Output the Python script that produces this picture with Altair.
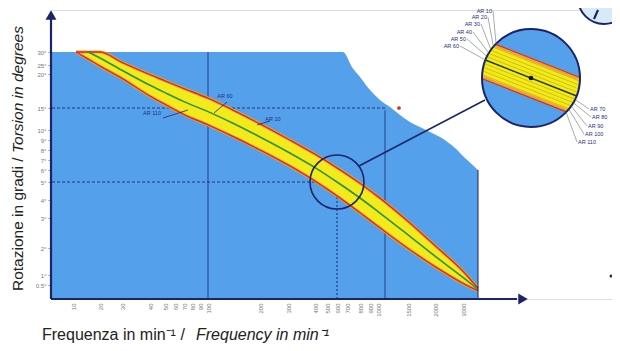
import math
import altair as alt
import pandas as pd

# ---------------- values ----------------
x_tick_values = [10, 20, 30, 40, 50, 60, 70, 80, 90, 100, 200, 300, 400, 500,
                 600, 700, 800, 900, 1000, 1500, 2000, 3000]
y_tick_values = [0.5, 1, 2, 3, 4, 5, 6, 7, 8, 9, 10, 15, 20, 25, 30]

# band curves (frequency in min^-1 -> torsion in degrees)
band_freq = [11.1, 15.6, 20, 30, 40, 50, 70, 100, 152, 200, 300, 400, 600,
             800, 1000, 1500, 2000, 3000, 4000]
ar10_deg = [30, 30, 30, 26.0, 19.9, 19.0, 17.85, 16.44, 14.3, 11.4, 9.1, 7.58,
            6.22, 4.93, 4.19, 2.89, 2.08, 1.14, 0.39]
ar110_deg = [30, 27.3, 24.4, 19.37, 16.75, 15.53, 13.52, 11.16, 9.25, 8.0, 6.51,
             5.08, 4.23, 3.29, 2.72, 1.98, 1.31, 0.58, 0.29]
ar60_freq = [15.6, 20, 30, 40, 50, 70, 100, 152, 200, 300, 400, 600, 800,
             1000, 1500, 2000, 3000, 4000]
ar60_deg = [30, 27.7, 22.06, 18.34, 17.26, 15.94, 14.18, 11.32, 9.3, 7.8, 6.24,
            5.0, 4.11, 3.36, 2.44, 1.70, 0.88, 0.34]

# outline of the blue field (top edge with the cut-away corner)
field_freq = [8, 660, 738, 800, 900, 1033, 1200, 1367, 1537, 1722, 1907, 2179,
              2714, 3133, 4000]
field_top_deg = [30, 30, 23.9, 19.56, 17.65, 16.18, 15.15, 13.41, 11.82, 10.68,
                 9.8, 9.3, 8.2, 7.2, 6.0]

# reference lines
ref_freq = [600]
ref_deg = [5]

# hand-drawn axis knots (value -> pixel in plot area)
x_knot_vals = [8] + x_tick_values + [4000, 7000]
x_knot_px = [1, 22, 49, 71, 99, 114, 124, 133, 141, 149, 157, 209, 237, 264,
             276, 286, 296, 309, 319, 327, 357, 384, 412, 427, 474]
y_knot_vals = [0, 0.5, 1, 2, 3, 4, 5, 6, 7, 8, 9, 10, 15, 20, 25, 30, 50]
y_knot_px = [289, 275, 265, 238, 208, 190, 172, 160, 150, 140, 130, 120, 98,
             64, 55, 42, 0]

# ---------------- styles ----------------
BLUE = "#55a0ea"
YELLOW = "#f3ea1c"
ORANGE = "#f2a23a"
RED = "#d5301e"
GREEN = "#2f8f3a"
NAVY = "#1b2468"
FONT = "Liberation Sans"

xs = alt.Scale(type="linear", domain=x_knot_vals, range=x_knot_px,
               nice=False, zero=False)
ys = alt.Scale(type="linear", domain=y_knot_vals, range=y_knot_px,
               nice=False, zero=False)

x_axis = alt.Axis(values=x_tick_values, labelAngle=-90, labelFontSize=6,
                  labelColor="#777777", ticks=False, domain=False, grid=False,
                  labelOverlap=False, labelPadding=4, title=None, labelFont=FONT,
                  format="d")
y_axis = alt.Axis(values=y_tick_values, labelExpr="datum.value + '°'",
                  labelFontSize=6, labelColor="#777777", tickSize=3,
                  tickColor="#8899bb", domain=False, grid=False,
                  labelOverlap=False, labelPadding=2, title=None, labelFont=FONT)

X = alt.X("f:Q", scale=xs, axis=x_axis)
Y = alt.Y("d:Q", scale=ys, axis=y_axis)

field_df = pd.DataFrame({"f": field_freq, "d": field_top_deg, "d2": 0})
band_df = pd.DataFrame({"f": band_freq, "d": ar10_deg, "d2": ar110_deg})
ar10_df = pd.DataFrame({"f": band_freq, "d": ar10_deg})
ar110_df = pd.DataFrame({"f": band_freq, "d": ar110_deg})
ar60_df = pd.DataFrame({"f": ar60_freq, "d": ar60_deg})

field = alt.Chart(field_df).mark_area(color=BLUE, interpolate="monotone").encode(
    x=X, y=Y, y2=alt.Y2("d2:Q"))

# dark vertical/horizontal guide lines in the field
vlines_df = pd.DataFrame({"f": [100, 1117], "d": [0, 0], "d2": [30, 14.5]})
vlines = alt.Chart(vlines_df).mark_rule(color=NAVY, strokeWidth=1, opacity=0.8).encode(
    x=X, y=Y, y2=alt.Y2("d2:Q"))
hl_df = pd.DataFrame({"f": [8, 8], "f2": [1117, ref_freq[0]], "d": [15, ref_deg[0]]})
hlines = alt.Chart(hl_df).mark_rule(color=NAVY, strokeWidth=1, strokeDash=[3, 2],
                                     opacity=0.85).encode(
    x=X, x2=alt.X2("f2:Q"), y=Y)
vd_df = pd.DataFrame({"f": ref_freq, "d": [0], "d2": ref_deg})
vdot = alt.Chart(vd_df).mark_rule(color=NAVY, strokeWidth=1, strokeDash=[2, 2]).encode(
    x=X, y=Y, y2=alt.Y2("d2:Q"))

band = alt.Chart(band_df).mark_area(color=YELLOW, interpolate="monotone").encode(
    x=X, y=Y, y2=alt.Y2("d2:Q"))
edge_o1 = alt.Chart(ar10_df).mark_line(color=ORANGE, strokeWidth=3,
                                       interpolate="monotone").encode(x=X, y=Y)
edge_o2 = alt.Chart(ar110_df).mark_line(color=ORANGE, strokeWidth=3,
                                        interpolate="monotone").encode(x=X, y=Y)
edge_r1 = alt.Chart(ar10_df).mark_line(color=RED, strokeWidth=1.4,
                                       interpolate="monotone").encode(x=X, y=Y)
edge_r2 = alt.Chart(ar110_df).mark_line(color=RED, strokeWidth=1.4,
                                        interpolate="monotone").encode(x=X, y=Y)
center = alt.Chart(ar60_df).mark_line(color=GREEN, strokeWidth=1.6,
                                      interpolate="monotone").encode(x=X, y=Y)

# ---------------- annotations (pixel space, plot origin) ----------------
def seg(x1, y1, x2, y2, color=NAVY, w=1.0):
    return dict(px=x1, py=y1, px2=x2, py2=y2, c=color, w=w)

PX = alt.X("px:Q", scale=None)
PY = alt.Y("py:Q", scale=None)


def rules(rows):
    return alt.Chart(pd.DataFrame(rows)).mark_rule().encode(
        x=PX, y=PY, x2=alt.X2("px2:Q"), y2=alt.Y2("py2:Q"),
        color=alt.Color("c:N", scale=None),
        strokeWidth=alt.StrokeWidth("w:Q", scale=None))


def texts(rows, align):
    return alt.Chart(pd.DataFrame(rows)).mark_text(
        fontSize=5.5, font=FONT, align=align, baseline="middle", color="#1e2f80"
    ).encode(x=PX, y=PY, text="t:N")

# band labels
band_lbl = texts([dict(px=101, py=103, t="AR 110"), dict(px=174, py=86, t="AR 60"),
                  dict(px=222, py=109, t="AR 10")], "center")
band_leaders = rules([seg(112, 108, 137, 100, NAVY, 0.8),
                      seg(176, 92, 163, 103, NAVY, 0.8),
                      seg(219, 111, 206, 115, NAVY, 0.8)])

# axes with arrows
axes_lines = rules([seg(0, 289, 0, 8, NAVY, 2.2), seg(0, 289, 466, 289, NAVY, 2.2),
                    seg(427, 160, 427, 289, NAVY, 1.0)])
arrows = alt.Chart(pd.DataFrame({"px": [0, 472], "py": [5, 289],
                                 "s": ["triangle-up", "triangle-right"]})).mark_point(
    filled=True, color=NAVY, size=120, opacity=1).encode(
    x=PX, y=PY, shape=alt.Shape("s:N", scale=None))

# magnifier
cx, cy, R = 480, 68, 49
th = math.radians(21.5)
ux, uy = math.cos(th), math.sin(th)
nx, ny = -math.sin(th), math.cos(th)
H = 18.5


def chord(d, shrink=0.0):
    L = math.sqrt(max(R * R - (abs(d) + shrink) ** 2, 0)) - 0.6
    ox, oy = cx + d * nx, cy + d * ny
    return ox - L * ux, oy - L * uy, ox + L * ux, oy + L * uy

fill_rows = []
d = -H + 1
while d <= H - 1 + 1e-6:
    a = chord(d, 1.2)
    fill_rows.append(seg(*a, YELLOW, 2.4))
    d += 1.5
for d0 in (-H + 1.5, H - 1.5):
    fill_rows.append(seg(*chord(d0, 2.0), ORANGE, 3.0))
mag_fill = rules(fill_rows)

line_rows = []
ends = []
for k in range(11):
    d0 = -H + k * (2 * H / 10)
    a = chord(d0)
    ends.append(a)
    if k in (0, 10):
        line_rows.append(seg(*a, RED, 1.2))
    elif k == 5:
        line_rows.append(seg(*a, "#1f3a1f", 1.4))
    else:
        line_rows.append(seg(*a, "#b8a200", 0.6))
mag_lines = rules(line_rows)

circles = alt.Chart(pd.DataFrame({
    "px": [cx, 553], "py": [cy, -12],
    "sz": [(2 * R) ** 2, 52 ** 2],
    "fc": [BLUE, "#d6eaf8"]})).mark_point(filled=True, opacity=1).encode(
    x=PX, y=PY, size=alt.Size("sz:Q", scale=None),
    color=alt.Color("fc:N", scale=None))
circle_rims = alt.Chart(pd.DataFrame({
    "px": [cx, 286, 553], "py": [cy, 172, -12],
    "sz": [(2 * R) ** 2, 54 ** 2, 52 ** 2],
    "sw": [2.0, 1.6, 2.0]})).mark_point(
    filled=False, color=NAVY, opacity=1).encode(
    x=PX, y=PY, size=alt.Size("sz:Q", scale=None),
    strokeWidth=alt.StrokeWidth("sw:Q", scale=None))

dots = alt.Chart(pd.DataFrame({
    "px": [cx, 348, 560], "py": [cy, 98, 266], "c": ["#111111", RED, "#333333"],
    "sz": [22, 14, 10]})).mark_circle(opacity=1).encode(
    x=PX, y=PY, color=alt.Color("c:N", scale=None), size=alt.Size("sz:Q", scale=None))

conn = rules([seg(308, 156, 434, 90, NAVY, 1.5)])
seven = rules([seg(547, 0, 543, 9, NAVY, 2.2)])

top_names = ["AR 10", "AR 20", "AR 30", "AR 40", "AR 50", "AR 60"]
top_pos = [(441, 1), (436, 7), (429, 14), (421, 22), (415, 29), (408, 36)]
bot_names = ["AR 70", "AR 80", "AR 90", "AR 100", "AR 110"]
bot_pos = [(539, 99), (541, 107), (537, 116), (534, 124), (527, 132)]
mag_lbl_top = texts([dict(px=p[0], py=p[1], t=t) for p, t in zip(top_pos, top_names)], "right")
mag_lbl_bot = texts([dict(px=p[0], py=p[1], t=t) for p, t in zip(bot_pos, bot_names)], "left")
lead_rows = []
for k, p in enumerate(top_pos):
    e = ends[k]
    lead_rows.append(seg(p[0] + 1, p[1], e[0], e[1], "#555555", 0.5))
for j, p in enumerate(bot_pos):
    e = ends[6 + j]
    lead_rows.append(seg(e[2], e[3], p[0] - 1, p[1], "#555555", 0.5))
mag_leaders = rules(lead_rows)

# axis titles (mixed upright / italic)
def title(t, x, y, angle=0, italic=False, size=14):
    return alt.Chart(pd.DataFrame({"t": [t]})).mark_text(
        font=FONT, fontSize=size, angle=angle, align="left", baseline="middle",
        color="#222222", fontStyle="italic" if italic else "normal").encode(
        x=alt.value(x), y=alt.value(y), text="t:N")

yt1 = title("Rotazione in gradi  /", -33, 281, 270, False, 15.5)
yt2 = title("Torsion in degrees", -33, 143, 270, True, 15.5)
xt1 = title("Frequenza in min⁻¹  /", -9, 325, 0, False, 16)
xt2 = title("Frequency in min⁻¹", 145, 325, 0, True, 16)

chart = alt.layer(
    field, vlines, hlines, vdot, band, edge_o1, edge_o2, edge_r1, edge_r2, center,
    band_leaders, band_lbl, axes_lines, arrows,
    conn, circles, mag_fill, mag_lines, circle_rims, seven, dots,
    mag_leaders, mag_lbl_top, mag_lbl_bot,
    yt1, yt2, xt1, xt2,
).properties(
    width=561, height=289,
    autosize=alt.AutoSizeParams(type="none"),
    padding={"left": 43, "top": 2, "right": 0, "bottom": 44},
).configure_view(stroke=None).configure(background="white")

chart.save("out.html", embed_options={"renderer": "svg", "actions": False})
